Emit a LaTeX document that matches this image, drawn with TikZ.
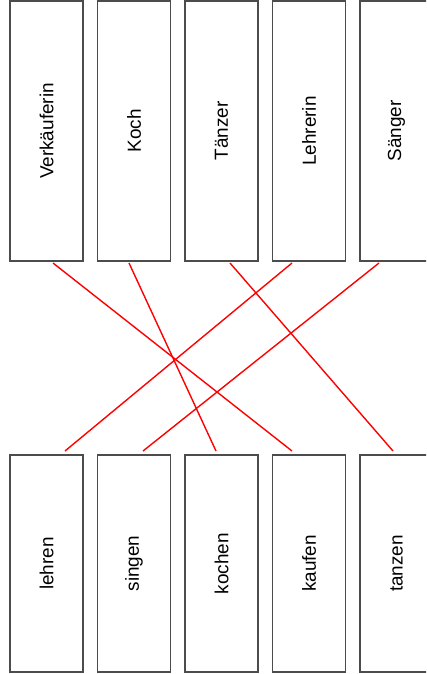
\documentclass[tikz,border=0pt]{standalone}
\usepackage{fontspec}
\setmainfont{Liberation Sans}
\begin{document}
\begin{tikzpicture}[x=1bp,y=-1bp,
  card/.style={draw=black!70, line width=1.3bp, fill=white, minimum width=73bp, inner sep=0pt,
    font=\fontsize{19}{22}\selectfont},
  topcard/.style={card, minimum height=260bp},
  botcard/.style={card, minimum height=217bp},
  match/.style={draw=red, line width=1.4bp}]
\clip (0,0) rectangle (426,674);
\useasboundingbox (0,0) rectangle (426,674);
% top row
\node[topcard] (verk) at (46.5,131) {\rotatebox{90}{Verkäuferin}};
\node[topcard] (koch) at (134,131) {\rotatebox{90}{Koch}};
\node[topcard] (taen) at (221.5,131) {\rotatebox{90}{Tänzer}};
\node[topcard] (lehr) at (309,131) {\rotatebox{90}{Lehrerin}};
\node[topcard] (saen) at (396.5,131) {\rotatebox{90}{Sänger}};
% bottom row
\node[botcard] (lehren) at (46.5,563.5) {\rotatebox{90}{lehren}};
\node[botcard] (singen) at (134,563.5) {\rotatebox{90}{singen}};
\node[botcard] (kochen) at (221.5,563.5) {\rotatebox{90}{kochen}};
\node[botcard] (kaufen) at (309,563.5) {\rotatebox{90}{kaufen}};
\node[botcard] (tanzen) at (396.5,563.5) {\rotatebox{90}{tanzen}};
% connector ends
\coordinate (verkP) at (53,263);
\coordinate (kochP) at (129,263);
\coordinate (taenP) at (230,263);
\coordinate (lehrP) at (292,263);
\coordinate (saenP) at (379,263);
\coordinate (lehrenP) at (65,451);
\coordinate (singenP) at (143,451);
\coordinate (kochenP) at (216,451);
\coordinate (kaufenP) at (292,451);
\coordinate (tanzenP) at (393,451);
% matches
\draw[match] (verkP) -- (kaufenP);
\draw[match] (kochP) -- (kochenP);
\draw[match] (taenP) -- (tanzenP);
\draw[match] (lehrP) -- (lehrenP);
\draw[match] (saenP) -- (singenP);
\end{tikzpicture}
\end{document}
